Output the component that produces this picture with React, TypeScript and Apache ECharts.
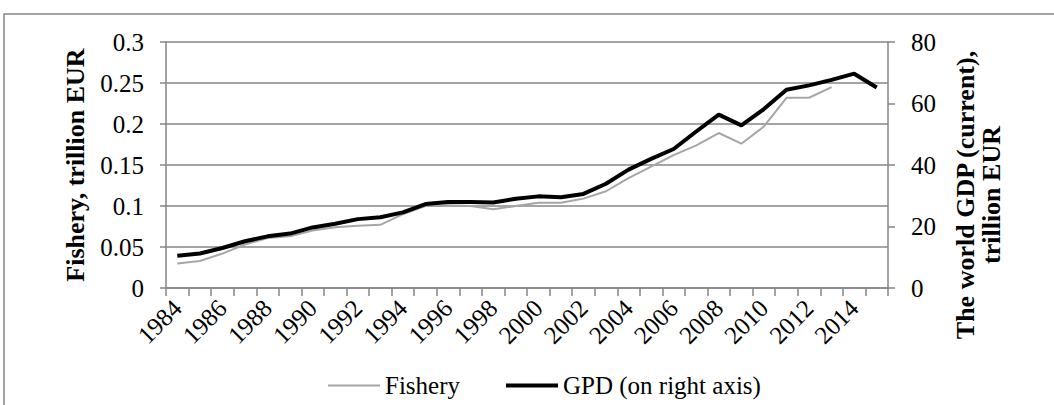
import React, { useEffect, useRef } from "react";
import * as echarts from "echarts";

const years = [
  "1984", "1985", "1986", "1987", "1988", "1989", "1990", "1991", "1992", "1993",
  "1994", "1995", "1996", "1997", "1998", "1999", "2000", "2001", "2002", "2003",
  "2004", "2005", "2006", "2007", "2008", "2009", "2010", "2011", "2012", "2013",
  "2014", "2015",
];

const fishery = [
  0.030, 0.033, 0.042, 0.053, 0.061, 0.063, 0.070, 0.074, 0.076, 0.077,
  0.090, 0.100, 0.101, 0.100, 0.096, 0.100, 0.104, 0.104, 0.109, 0.118,
  0.134, 0.148, 0.162, 0.174, 0.189, 0.176, 0.197, 0.232, 0.232, 0.245,
  null, null,
];

const gdp = [
  10.5, 11.2, 13.0, 15.2, 16.8, 17.7, 19.7, 20.9, 22.4, 23.0,
  24.6, 27.3, 28.0, 28.0, 27.8, 29.0, 29.8, 29.5, 30.6, 33.9,
  38.5, 42.0, 45.2, 50.9, 56.4, 52.9, 58.2, 64.5, 65.9, 67.7,
  69.7, 65.2,
];

const leftName = "Fishery, trillion EUR";
const rightName = "The world GDP (current),\ntrillion EUR";
const seriesNames = ["Fishery", "GPD (on right axis)"];

const FONT = "'Liberation Serif', 'Times New Roman', serif";
const AXIS = "#868686";
const GRAY = "#A6A6A6";

export default function App() {
  const ref = useRef<HTMLDivElement>(null);
  useEffect(() => {
    if (!ref.current) return;
    const chart = echarts.init(ref.current, null, { renderer: "svg" });
    const legendText = { fontFamily: FONT, fontSize: 25, color: "#000" };
    chart.setOption({
      animation: false,
      backgroundColor: "#ffffff",
      textStyle: { fontFamily: FONT },
      grid: { left: 166, right: 166, top: 42, bottom: 117, containLabel: false },
      legend: [
        {
          left: 323,
          top: 368,
          icon: "rect",
          itemWidth: 52,
          itemHeight: 2,
          textStyle: legendText,
          data: [seriesNames[0]],
        },
        {
          left: 501,
          top: 368,
          icon: "rect",
          itemWidth: 52,
          itemHeight: 4,
          textStyle: legendText,
          data: [seriesNames[1]],
        },
      ],
      xAxis: {
        type: "category",
        data: years,
        boundaryGap: true,
        axisLine: { show: true, lineStyle: { color: AXIS, width: 1.5 } },
        axisTick: { show: true, length: 8, interval: 0, lineStyle: { color: AXIS, width: 1.5 } },
        axisLabel: {
          interval: 1,
          rotate: 45,
          margin: 16,
          fontFamily: FONT,
          fontSize: 25,
          color: "#000",
        },
        splitLine: { show: false },
      },
      yAxis: [
        {
          type: "value",
          min: 0,
          max: 0.3,
          interval: 0.05,
          position: "left",
          name: leftName,
          nameLocation: "middle",
          nameGap: 78,
          nameTextStyle: { fontFamily: FONT, fontSize: 26, fontWeight: "bold", color: "#000" },
          axisLine: { show: true, lineStyle: { color: AXIS, width: 1.5 } },
          axisTick: { show: true, length: 6, lineStyle: { color: AXIS, width: 1.5 } },
          axisLabel: { margin: 22, fontFamily: FONT, fontSize: 25, color: "#000" },
          splitLine: { show: true, lineStyle: { color: AXIS, width: 1.5 } },
        },
        {
          type: "value",
          min: 0,
          max: 80,
          interval: 20,
          position: "right",
          axisLine: { show: true, lineStyle: { color: AXIS, width: 1.5 } },
          axisTick: { show: true, length: 7, lineStyle: { color: AXIS, width: 1.5 } },
          axisLabel: { margin: 23, fontFamily: FONT, fontSize: 25, color: "#000" },
          splitLine: { show: false },
        },
      ],
      graphic: [
        {
          type: "rect",
          silent: true,
          shape: { x: 4, y: 14, width: 1200, height: 600 },
          style: { fill: "none", stroke: AXIS, lineWidth: 1.5 },
        },
        {
          type: "text",
          x: 978,
          y: 195,
          rotation: Math.PI / 2,
          style: {
            text: rightName,
            fontFamily: FONT,
            fontSize: 26,
            fontWeight: "bold",
            fill: "#000",
            align: "center",
            verticalAlign: "middle",
            lineHeight: 26,
          },
        },
      ],
      series: [
        {
          name: seriesNames[0],
          type: "line",
          yAxisIndex: 0,
          data: fishery,
          symbol: "none",
          lineStyle: { color: GRAY, width: 2 },
          itemStyle: { color: GRAY },
        },
        {
          name: seriesNames[1],
          type: "line",
          yAxisIndex: 1,
          data: gdp,
          symbol: "none",
          lineStyle: { color: "#000000", width: 4 },
          itemStyle: { color: "#000000" },
        },
      ],
    });
    return () => chart.dispose();
  }, []);
  return (
    <div
      ref={ref}
      style={{ position: "absolute", left: 0, top: 0, width: 1054, height: 405 }}
    />
  );
}
